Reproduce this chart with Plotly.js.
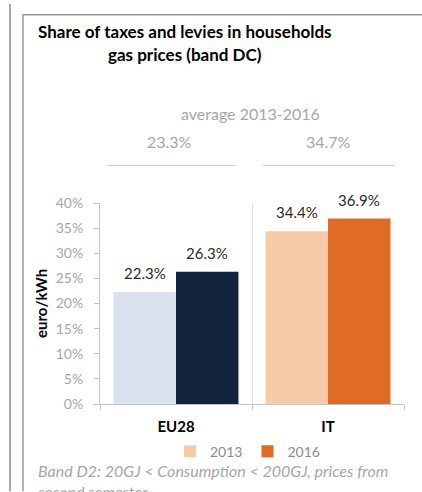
<!DOCTYPE html>
<html>
<head>
<meta charset="utf-8">
<script src="https://cdn.plot.ly/plotly-3.0.1.min.js"></script>
<style>html,body{margin:0;padding:0;background:#fff;}#chart{width:422px;height:492px;}</style>
</head>
<body>
<div id="chart"></div>
<script>
// ---- data ----
const categories = ['EU28', 'IT'];
const years = ['2013', '2016'];
const share2013 = [22.3, 34.4];
const share2016 = [26.3, 36.9];
const averages = [23.3, 34.7];
const averageLabel = 'average 2013-2016';
const yTicks = [0, 5, 10, 15, 20, 25, 30, 35, 40];
const yTickLabels = ['0%', '5%', '10%', '15%', '20%', '25%', '30%', '35%', '40%'];
const titleLines = ['Share of taxes and levies in households', 'gas prices (band DC)'];
const yTitle = 'euro/kWh';
const footnote = 'Band D2: 20GJ < Consumption < 200GJ, prices from<br>second semester';

// ---- styles ----
const colors = {
  EU28: {'2013': '#dbe2ef', '2016': '#12233d'},
  IT: {'2013': '#f8cba8', '2016': '#e06b26'}
};
const FONT = 'Lato, "Open Sans", sans-serif';
const px = x => (x - 100) / 304;
const py = y => (404 - y) / 203;
const TY = -4; // text vertical correction

const seriesByYear = {'2013': share2013, '2016': share2016};
const traces = [];
categories.forEach((cat, ci) => {
  years.forEach(yr => {
    traces.push({
      type: 'bar',
      x: [cat],
      y: [seriesByYear[yr][ci]],
      name: yr,
      offsetgroup: yr,
      legendgroup: yr,
      showlegend: cat === 'IT',
      marker: {color: colors[cat][yr], line: {width: 0}},
      hoverinfo: 'x+y+name'
    });
  });
});

const annotations = [];
// bar value labels
const barOffset = {'2013': -31, '2016': 31};
categories.forEach((cat, ci) => {
  years.forEach(yr => {
    const v = seriesByYear[yr][ci];
    annotations.push({
      x: cat, y: v, xref: 'x', yref: 'y',
      text: v.toFixed(1) + '%', showarrow: false,
      xshift: barOffset[yr], yshift: 19, yanchor: 'middle',
      font: {family: FONT, size: 15, color: '#2b2b2b'}
    });
  });
});
// title
annotations.push({xref: 'paper', yref: 'paper', x: px(185), y: py(32 + TY), text: '<b>' + titleLines[0] + '</b>',
  showarrow: false, xanchor: 'center', yanchor: 'middle', font: {family: FONT, size: 17, color: '#000'}});
annotations.push({xref: 'paper', yref: 'paper', x: px(185), y: py(55 + TY), text: '<b>' + titleLines[1] + '</b>',
  showarrow: false, xanchor: 'center', yanchor: 'middle', font: {family: FONT, size: 17, color: '#000'}});
// average header
annotations.push({xref: 'paper', yref: 'paper', x: px(250), y: py(115 + TY), text: averageLabel,
  showarrow: false, xanchor: 'center', yanchor: 'middle', font: {family: FONT, size: 16, color: '#a6a6a6'}});
const avgX = [169, 328];
averages.forEach((a, i) => {
  annotations.push({xref: 'paper', yref: 'paper', x: px(avgX[i]), y: py(143 + TY), text: a.toFixed(1) + '%',
    showarrow: false, xanchor: 'center', yanchor: 'middle', font: {family: FONT, size: 16, color: '#a6a6a6'}});
});
// y title
annotations.push({xref: 'paper', yref: 'paper', x: px(41), y: py(303), text: '<b>' + yTitle + '</b>',
  textangle: -90, showarrow: false, xanchor: 'center', yanchor: 'middle', font: {family: FONT, size: 15, color: '#000'}});
// footnote
annotations.push({xref: 'paper', yref: 'paper', x: px(35), y: py(460), text: '<i>' + footnote + '</i>',
  showarrow: false, xanchor: 'left', yanchor: 'top', align: 'left', font: {family: FONT, size: 16, color: '#a6a6a6'}});

const shapes = [
  {type: 'line', xref: 'paper', yref: 'paper', x0: px(10), x1: px(10), y0: py(0), y1: py(492), line: {color: '#a8a8a8', width: 2}},
  {type: 'line', xref: 'paper', yref: 'paper', x0: px(23), x1: px(23), y0: py(10), y1: py(492), line: {color: '#9a9a9a', width: 1.5}},
  {type: 'line', xref: 'paper', yref: 'paper', x0: px(23), x1: px(422), y0: py(11), y1: py(11), line: {color: '#9a9a9a', width: 1.5}},
  {type: 'line', xref: 'paper', yref: 'paper', x0: px(107), x1: px(236), y0: py(163), y1: py(163), line: {color: '#d4d4d4', width: 1.2}},
  {type: 'line', xref: 'paper', yref: 'paper', x0: px(263), x1: px(395), y0: py(163), y1: py(163), line: {color: '#d4d4d4', width: 1.2}}
];

const layout = {
  width: 422, height: 492,
  margin: {l: 100, r: 18, t: 203, b: 88, pad: 0},
  paper_bgcolor: '#fff', plot_bgcolor: '#fff',
  barmode: 'group', bargap: 0.178, bargroupgap: 0,
  showlegend: true,
  legend: {orientation: 'h', x: px(170), y: py(436), xanchor: 'left', yanchor: 'top',
    font: {family: FONT, size: 14, color: '#8c8c8c'}, itemwidth: 30, traceorder: 'normal', bgcolor: 'rgba(0,0,0,0)'},
  xaxis: {type: 'category', tickson: 'boundaries', showgrid: true, gridcolor: '#e3e3e3', gridwidth: 1,
    showline: true, linecolor: '#c4c4c4', ticks: 'outside', ticklen: 5, tickcolor: '#c4c4c4', ticklabelstandoff: 9,
    tickfont: {family: FONT, size: 15, color: '#000', weight: 'bold'}, fixedrange: true},
  yaxis: {range: [0, 40], tickvals: yTicks, ticktext: yTickLabels, showgrid: false, zeroline: false,
    showline: true, linecolor: '#c4c4c4', ticks: 'outside', ticklen: 5, tickcolor: '#c4c4c4', ticklabelstandoff: 8,
    tickfont: {family: FONT, size: 14, color: '#a6a6a6'}, fixedrange: true},
  annotations: annotations,
  shapes: shapes
};

Plotly.newPlot('chart', traces, layout, {displayModeBar: false, staticPlot: true});
</script>
</body>
</html>
